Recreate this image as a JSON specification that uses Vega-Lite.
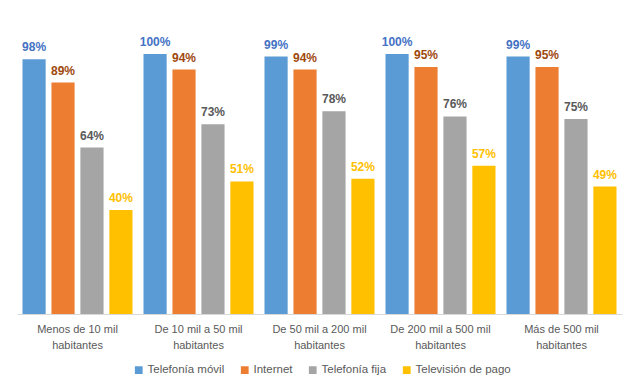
{
  "$schema": "https://vega.github.io/schema/vega-lite/v6.json",
  "width": 605,
  "height": 286,
  "autosize": {"type": "none"},
  "padding": {"left": 17, "top": 28, "right": 21, "bottom": 76},
  "background": "white",
  "config": {
    "view": {"stroke": null},
    "font": "Liberation Sans"
  },
  "data": {
    "values": [
      {"grupo": "Menos de 10 mil habitantes", "serie": "Telefonía móvil", "valor": 0.98},
      {"grupo": "Menos de 10 mil habitantes", "serie": "Internet", "valor": 0.89},
      {"grupo": "Menos de 10 mil habitantes", "serie": "Telefonía fija", "valor": 0.64},
      {"grupo": "Menos de 10 mil habitantes", "serie": "Televisión de pago", "valor": 0.40},
      {"grupo": "De 10 mil a 50 mil habitantes", "serie": "Telefonía móvil", "valor": 1.00},
      {"grupo": "De 10 mil a 50 mil habitantes", "serie": "Internet", "valor": 0.94},
      {"grupo": "De 10 mil a 50 mil habitantes", "serie": "Telefonía fija", "valor": 0.73},
      {"grupo": "De 10 mil a 50 mil habitantes", "serie": "Televisión de pago", "valor": 0.51},
      {"grupo": "De 50 mil a 200 mil habitantes", "serie": "Telefonía móvil", "valor": 0.99},
      {"grupo": "De 50 mil a 200 mil habitantes", "serie": "Internet", "valor": 0.94},
      {"grupo": "De 50 mil a 200 mil habitantes", "serie": "Telefonía fija", "valor": 0.78},
      {"grupo": "De 50 mil a 200 mil habitantes", "serie": "Televisión de pago", "valor": 0.52},
      {"grupo": "De 200 mil a 500 mil habitantes", "serie": "Telefonía móvil", "valor": 1.00},
      {"grupo": "De 200 mil a 500 mil habitantes", "serie": "Internet", "valor": 0.95},
      {"grupo": "De 200 mil a 500 mil habitantes", "serie": "Telefonía fija", "valor": 0.76},
      {"grupo": "De 200 mil a 500 mil habitantes", "serie": "Televisión de pago", "valor": 0.57},
      {"grupo": "Más de 500 mil habitantes", "serie": "Telefonía móvil", "valor": 0.99},
      {"grupo": "Más de 500 mil habitantes", "serie": "Internet", "valor": 0.95},
      {"grupo": "Más de 500 mil habitantes", "serie": "Telefonía fija", "valor": 0.75},
      {"grupo": "Más de 500 mil habitantes", "serie": "Televisión de pago", "valor": 0.49}
    ]
  },
  "encoding": {
    "x": {
      "field": "grupo",
      "type": "nominal",
      "sort": null,
      "scale": {"paddingInner": 0, "paddingOuter": 0},
      "axis": {
        "title": null,
        "labelAngle": 0,
        "ticks": false,
        "domainColor": "#D9D9D9",
        "domainWidth": 1,
        "labelColor": "#595959",
        "labelFont": "Liberation Sans",
        "labelFontSize": 11,
        "labelPadding": 9,
        "labelLineHeight": 16,
        "labelExpr": "[replace(datum.label, ' habitantes', ''), 'habitantes']"
      }
    },
    "xOffset": {
      "field": "serie",
      "type": "nominal",
      "sort": ["Telefonía móvil", "Internet", "Telefonía fija", "Televisión de pago"],
      "scale": {"paddingInner": 0.2, "paddingOuter": 0.19}
    },
    "y": {
      "field": "valor",
      "type": "quantitative",
      "scale": {"domain": [0, 1.1]},
      "axis": null
    }
  },
  "layer": [
    {
      "mark": {"type": "bar"},
      "encoding": {
        "color": {
          "field": "serie",
          "type": "nominal",
          "sort": ["Telefonía móvil", "Internet", "Telefonía fija", "Televisión de pago"],
          "scale": {
            "domain": ["Telefonía móvil", "Internet", "Telefonía fija", "Televisión de pago"],
            "range": ["#5B9BD5", "#ED7D31", "#A5A5A5", "#FFC000"]
          },
          "legend": {
            "title": null,
            "orient": "none",
            "legendX": 116,
            "legendY": 336,
            "direction": "horizontal",
            "symbolType": "square",
            "symbolSize": 60,
            "symbolStrokeWidth": 0,
            "labelColor": "#595959",
            "labelFont": "Liberation Sans",
            "labelFontSize": 11.5,
            "columnPadding": 14,
            "labelOffset": 3
          }
        }
      }
    },
    {
      "mark": {"type": "text", "baseline": "bottom", "dy": -5, "fontWeight": "bold", "fontSize": 12},
      "encoding": {
        "text": {"field": "valor", "type": "quantitative", "format": ".0%"},
        "color": {
          "field": "serie",
          "type": "nominal",
          "scale": {
            "domain": ["Telefonía móvil", "Internet", "Telefonía fija", "Televisión de pago"],
            "range": ["#4472C4", "#9E480E", "#595959", "#FFC000"]
          },
          "legend": null
        }
      }
    }
  ],
  "resolve": {"scale": {"color": "independent"}}
}
